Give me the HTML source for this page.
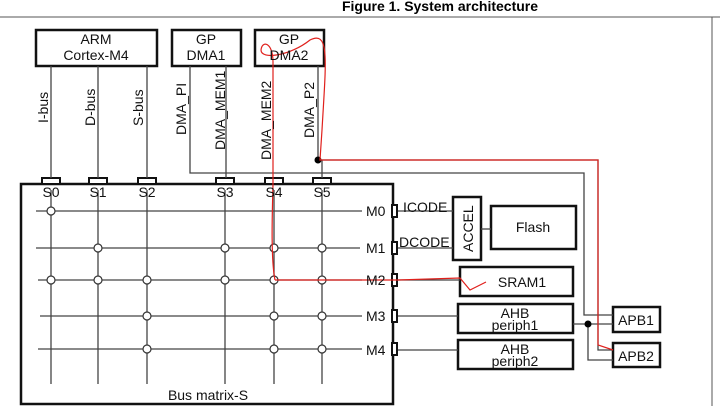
<!DOCTYPE html>
<html><head><meta charset="utf-8"><style>
html,body{margin:0;padding:0;background:#fff;}
svg{display:block;font-family:"Liberation Sans",sans-serif;}
</style></head><body>
<svg width="720" height="406" viewBox="0 0 720 406" xmlns="http://www.w3.org/2000/svg">
<text x="440" y="11" font-size="14" font-weight="bold" text-anchor="middle">Figure 1. System architecture</text>
<line x1="0" y1="17" x2="720" y2="17" stroke="#555" stroke-width="1"/>
<line x1="712" y1="17" x2="712" y2="406" stroke="#555" stroke-width="1"/>
<g fill="none" stroke="#111" stroke-width="2.5">
<rect x="36" y="30" width="121" height="36"/>
<rect x="172" y="30" width="69" height="36"/>
<rect x="255" y="30" width="69" height="36"/>
<rect x="21" y="184" width="372" height="220"/>
<rect x="453" y="197" width="28" height="63"/>
<rect x="491" y="206" width="85" height="43"/>
<rect x="460" y="267" width="113" height="29"/>
<rect x="458" y="304" width="115" height="29"/>
<rect x="458" y="340" width="115" height="29"/>
<rect x="613" y="307" width="47" height="25"/>
<rect x="613" y="343" width="47" height="24"/>
</g>
<g fill="#fff" stroke="#111" stroke-width="2">
<rect x="42" y="178" width="18" height="6"/><rect x="89" y="178" width="18" height="6"/><rect x="138" y="178" width="18" height="6"/>
<rect x="216" y="178" width="18" height="6"/><rect x="265" y="178" width="18" height="6"/><rect x="313" y="178" width="18" height="6"/>
<rect x="392" y="205" width="5" height="12"/><rect x="392" y="242" width="5" height="12"/><rect x="392" y="274" width="5" height="12"/>
<rect x="392" y="310" width="5" height="12"/><rect x="392" y="343" width="5" height="12"/>
</g>
<g stroke="#444" stroke-width="1.3" fill="none">
<line x1="51" y1="66" x2="51" y2="178"/><line x1="98" y1="66" x2="98" y2="178"/><line x1="147" y1="66" x2="147" y2="178"/>
<polyline points="190,66 190,173 584,173 584,315 613,315"/>
<line x1="226" y1="66" x2="226" y2="178"/>
<polyline points="318,66 318,160 598,160 598,350 613,350"/>
<line x1="322" y1="160" x2="322" y2="178"/>
<line x1="36" y1="211" x2="362" y2="211"/><line x1="36" y1="248" x2="360" y2="248"/>
<line x1="38" y1="280" x2="362" y2="280"/><line x1="40" y1="316" x2="362" y2="316"/><line x1="38" y1="349" x2="362" y2="349"/>
<line x1="51" y1="190" x2="51" y2="384"/><line x1="98" y1="190" x2="98" y2="384"/><line x1="147" y1="190" x2="147" y2="384"/>
<line x1="225" y1="190" x2="225" y2="384"/><line x1="274" y1="190" x2="274" y2="384"/><line x1="322" y1="190" x2="322" y2="384"/>
<line x1="398" y1="211" x2="453" y2="211"/><line x1="398" y1="248" x2="453" y2="248"/>
<line x1="481" y1="229" x2="491" y2="229"/>
<line x1="398" y1="280" x2="460" y2="280"/><line x1="398" y1="316" x2="458" y2="316"/><line x1="398" y1="350" x2="458" y2="350"/>
<polyline points="573,324 613,324"/><polyline points="588,324 588,360 613,360"/>
</g>
<g fill="#fff" stroke="#333" stroke-width="1.2">
<circle cx="51" cy="211" r="4"/>
<circle cx="98" cy="248" r="4"/><circle cx="225" cy="248" r="4"/><circle cx="274" cy="248" r="4"/><circle cx="322" cy="248" r="4"/>
<circle cx="51" cy="280" r="4"/><circle cx="98" cy="280" r="4"/><circle cx="147" cy="280" r="4"/><circle cx="225" cy="280" r="4"/><circle cx="274" cy="280" r="4"/><circle cx="322" cy="280" r="4"/>
<circle cx="147" cy="316" r="4"/><circle cx="274" cy="316" r="4"/><circle cx="322" cy="316" r="4"/>
<circle cx="147" cy="349" r="4"/><circle cx="274" cy="349" r="4"/><circle cx="322" cy="349" r="4"/>
</g>
<circle cx="318" cy="160" r="3.5" fill="#000"/><circle cx="588" cy="324" r="3.5" fill="#000"/>
<path d="M275,280 C271,260 272,220 273,184 L273,62 C273,42 262,40 261,50 C261,60 290,56 310,40 C330,30 326,60 322,130 L320,160 L598,160 L598,345 L613,350 M275,280 L398,280 L460,278 L470,290 L486,282" fill="none" stroke="#e0201c" stroke-width="1.2"/>
<g font-size="14" fill="#111" text-anchor="middle">
<text x="96" y="44">ARM</text><text x="96" y="60">Cortex-M4</text>
<text x="206" y="44">GP</text><text x="206" y="60">DMA1</text>
<text x="289" y="44">GP</text><text x="289" y="60">DMA2</text>
<text x="51" y="197">S0</text><text x="98" y="197">S1</text><text x="147" y="197">S2</text>
<text x="225" y="197">S3</text><text x="274" y="197">S4</text><text x="322" y="197">S5</text>
<text x="208" y="400">Bus matrix-S</text>
<text x="533" y="232">Flash</text><text x="522" y="287">SRAM1</text>
<text x="515" y="318">AHB</text><text x="515" y="330">periph1</text>
<text x="515" y="354">AHB</text><text x="515" y="366">periph2</text>
<text x="636" y="325">APB1</text><text x="636" y="361">APB2</text>
</g>
<g font-size="14" fill="#111">
<text x="366" y="216">M0</text><text x="366" y="253">M1</text><text x="366" y="285">M2</text><text x="366" y="321">M3</text><text x="366" y="355">M4</text>
<text x="403" y="212">ICODE</text><text x="399" y="247">DCODE</text>
</g>
<g font-size="14" fill="#111">
<text transform="translate(48,123) rotate(-90)">I-bus</text>
<text transform="translate(95,126) rotate(-90)">D-bus</text>
<text transform="translate(143,126) rotate(-90)">S-bus</text>
<text transform="translate(186,135) rotate(-90)">DMA_PI</text>
<text transform="translate(225,150) rotate(-90)">DMA_MEM1</text>
<text transform="translate(271,160) rotate(-90)">DMA_MEM2</text>
<text transform="translate(314,138) rotate(-90)">DMA_P2</text>
<text transform="translate(473,252) rotate(-90)">ACCEL</text>
</g>
</svg>
</body></html>
